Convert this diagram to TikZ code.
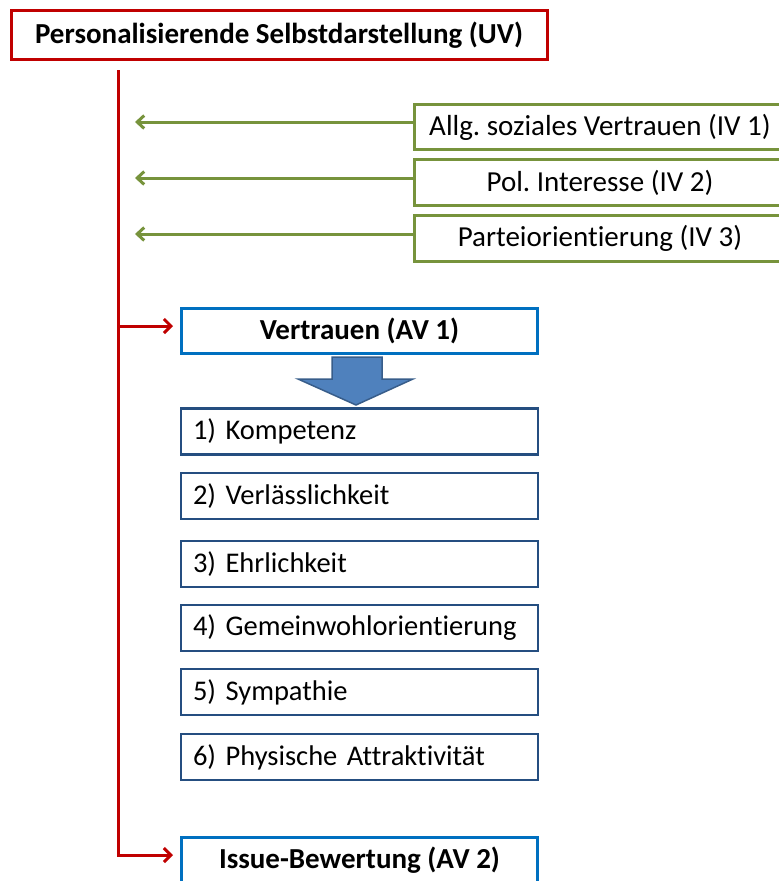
\documentclass[tikz,border=0pt]{standalone}
\usepackage{fontspec}
\setmainfont{Carlito}[Ligatures={NoCommon}]
\usetikzlibrary{arrows.meta}
\frenchspacing
\definecolor{rred}{HTML}{C00000}
\definecolor{ggreen}{HTML}{77933C}
\definecolor{bblue}{HTML}{0070C0}
\definecolor{dblue}{HTML}{254E80}
\definecolor{afill}{HTML}{4F81BD}
\definecolor{aline}{HTML}{385D8A}
\tikzset{
  x=1pt,y=-1pt,
  txt/.style={font=\fontsize{29}{33}\selectfont\frenchspacing},
  itxt/.style={font=\fontsize{28.5}{33}\selectfont\frenchspacing},
  btxt/.style={font=\fontsize{29}{33}\selectfont\bfseries\frenchspacing},
  uvbox/.style={draw=rred,line width=3pt,minimum width=536pt,minimum height=49pt,inner sep=0pt,btxt},
  ivbox/.style={draw=ggreen,line width=3pt,minimum width=371pt,minimum height=45.5pt,inner sep=0pt,txt},
  avbox/.style={draw=bblue,line width=3pt,minimum width=356pt,minimum height=45.5pt,inner sep=0pt,btxt},
  itembox/.style={draw=dblue,line width=2.2pt,minimum width=357pt,minimum height=46pt,text width=333pt,inner xsep=12pt,inner ysep=0pt,align=left,itxt},
  redarrow/.style={draw=rred,line width=3pt,-{Straight Barb[length=7pt,width=14pt]}},
  greenarrow/.style={draw=ggreen,line width=3pt,-{Straight Barb[length=7pt,width=13pt]}},
}
\begin{document}
\begin{tikzpicture}
\useasboundingbox (0,0) rectangle (779,881);
\clip (0,0) rectangle (779,881);
\node[uvbox] (uv) at (279,35) {Personalisierende Selbstdarstellung (UV)};
\node[ivbox] (iv1) at (600,127) {Allg. soziales Vertrauen (IV 1)};
\node[ivbox] (iv2) at (600,182.5) {Pol. Interesse (IV 2)};
\node[ivbox] (iv3) at (600,238.5) {Parteiorientierung (IV 3)};
\node[avbox] (av1) at (359.5,331) {Vertrauen (AV 1)};
\node[itembox] (i1) at (359.5,431.5) {1) Kompetenz};
\node[itembox] (i2) at (359.5,496) {2) Verlässlichkeit};
\node[itembox] (i3) at (359.5,564) {3) Ehrlichkeit};
\node[itembox] (i4) at (359.5,628) {4) Gemeinwohlorientierung};
\node[itembox] (i5) at (359.5,692) {5) Sympathie};
\node[itembox] (i6) at (359.5,757) {6) Physische Attraktivität};
\node[avbox] (av2) at (359.5,860) {Issue-Bewertung (AV 2)};
% red line
\coordinate (s) at (118,70);
\coordinate (b1) at (118,326);
\coordinate (b2) at (118,855);
\coordinate (t1) at (173,326);
\coordinate (t2) at (173,855);
\draw[redarrow] (s) -- (b2) -- (t2);
\draw[redarrow] (b1) -- (t1);
% green arrows
\coordinate (g1) at (135,122);
\coordinate (g2) at (135,178);
\coordinate (g3) at (135,234);
\draw[greenarrow] (iv1.west |- g1) -- (g1);
\draw[greenarrow] (iv2.west |- g2) -- (g2);
\draw[greenarrow] (iv3.west |- g3) -- (g3);
% block arrow
\draw[fill=afill,draw=aline,line width=1.5pt,line join=miter]
  (332,357) -- (382,357) -- (382,379) -- (413,379) -- (356,405) -- (298,379) -- (332,379) -- cycle;
\end{tikzpicture}
\end{document}
